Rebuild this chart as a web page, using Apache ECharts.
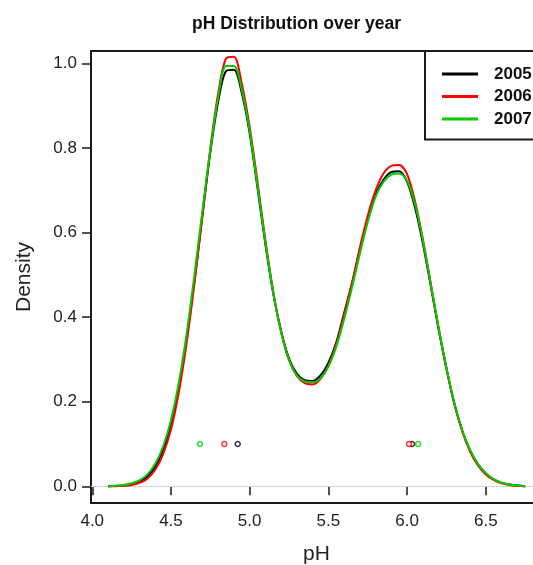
<!DOCTYPE html>
<html>
<head>
<meta charset="utf-8">
<script src="https://cdn.jsdelivr.net/npm/echarts@6/dist/echarts.min.js"></script>
<style>
html,body{margin:0;padding:0;background:#fff;}
#chart{width:533px;height:565px;}
</style>
</head>
<body>
<div id="chart"></div>
<script>
const years = ['2005', '2006', '2007'];
const colors = ['#000000', '#ff0000', '#00cc00'];
const phGrid = [4.10,4.15,4.20,4.25,4.30,4.35,4.40,4.45,4.50,4.55,4.60,4.65,4.70,4.75,4.80,4.85,4.90,4.95,
  5.00,5.05,5.10,5.15,5.20,5.25,5.30,5.35,5.40,5.45,5.50,5.55,5.60,5.65,5.70,5.75,5.80,5.85,5.90,5.95,
  6.00,6.05,6.10,6.15,6.20,6.25,6.30,6.35,6.40,6.45,6.50,6.55,6.60,6.65,6.70,6.75];
const density2005 = [0.000,0.001,0.002,0.005,0.011,0.023,0.046,0.085,0.145,0.232,0.350,0.488,0.640,0.790,0.910,0.982,0.985,0.930,
  0.835,0.705,0.572,0.455,0.366,0.302,0.266,0.251,0.249,0.262,0.292,0.340,0.410,0.480,0.560,0.630,0.690,0.725,0.743,0.745,
  0.720,0.660,0.575,0.475,0.372,0.278,0.196,0.132,0.085,0.052,0.030,0.016,0.008,0.004,0.002,0.000];
const density2006 = [0.000,0.000,0.001,0.003,0.008,0.018,0.039,0.076,0.134,0.222,0.340,0.482,0.642,0.800,0.930,1.012,1.016,0.952,
  0.850,0.720,0.582,0.460,0.366,0.298,0.261,0.244,0.241,0.254,0.285,0.335,0.405,0.480,0.565,0.640,0.700,0.740,0.758,0.760,
  0.738,0.675,0.585,0.480,0.375,0.280,0.195,0.130,0.082,0.049,0.028,0.015,0.007,0.003,0.001,0.000];
const density2007 = [0.000,0.001,0.003,0.007,0.014,0.028,0.053,0.094,0.156,0.246,0.362,0.503,0.652,0.795,0.920,0.994,0.994,0.938,
  0.840,0.710,0.576,0.457,0.363,0.299,0.262,0.248,0.246,0.256,0.283,0.330,0.395,0.470,0.550,0.625,0.685,0.720,0.737,0.740,
  0.722,0.668,0.582,0.480,0.375,0.280,0.197,0.133,0.086,0.053,0.031,0.017,0.009,0.004,0.002,0.000];
const markerLevel = 0.1;
const markers2005 = [4.924, 6.031];
const markers2006 = [4.839, 6.012];
const markers2007 = [4.684, 6.070];
const xTicks = [4.0, 4.5, 5.0, 5.5, 6.0, 6.5];
const yTicks = [0.0, 0.2, 0.4, 0.6, 0.8, 1.0];

const densities = [density2005, density2006, density2007];
const markers = [markers2005, markers2006, markers2007];
const FONT = '"Liberation Sans", Arial, Helvetica, sans-serif';

const series = [];
years.forEach((y, i) => {
  series.push({
    name: y,
    type: 'line',
    data: phGrid.map((p, k) => [p, densities[i][k]]),
    showSymbol: false,
    smooth: 0.3,
    lineStyle: { color: colors[i], width: 2 },
    itemStyle: { color: colors[i] },
    z: 3 + i,
    markLine: i === 0 ? {
      silent: true, symbol: 'none', label: { show: false },
      lineStyle: { color: '#d4d4d4', width: 1, type: 'solid' },
      data: [{ yAxis: 0 }], z: 1
    } : undefined
  });
});
years.forEach((y, i) => {
  series.push({
    name: y,
    type: 'scatter',
    data: markers[i].map(p => [p, markerLevel]),
    symbol: 'circle',
    symbolSize: 5,
    itemStyle: { color: '#fff', borderColor: colors[i], borderWidth: 1.5 },
    z: 6
  });
});

const chart = echarts.init(document.getElementById('chart'), null, { renderer: 'canvas' });
chart.setOption({
  animation: false,
  backgroundColor: '#fff',
  title: {
    text: 'pH Distribution over year',
    left: 187, top: 10,
    textStyle: { fontFamily: FONT, fontSize: 17.5, fontWeight: 'bold', color: '#111' }
  },
  legend: {
    data: years,
    orient: 'vertical',
    left: 425, top: 51,
    padding: [14.5, 40, 12, 17],
    itemWidth: 36, itemHeight: 3, itemGap: 5.5,
    icon: 'rect',
    borderColor: '#1a1a1a', borderWidth: 2,
    backgroundColor: '#fff',
    textStyle: { fontFamily: FONT, fontSize: 17, fontWeight: 'bold', color: '#111', lineHeight: 17, padding: [0, 0, 0, 11] },
    selectedMode: false
  },
  grid: {
    left: 91, right: -9, top: 51, bottom: 62,
    outerBoundsMode: 'none',
    containLabel: false,
    show: true, borderColor: '#1a1a1a', borderWidth: 2, backgroundColor: 'transparent'
  },
  xAxis: {
    type: 'value', min: 3.992, max: 6.857,
    name: 'pH', nameLocation: 'middle', nameGap: 41,
    nameTextStyle: { fontFamily: FONT, fontSize: 21, color: '#222' },
    axisLine: { show: false },
    axisTick: { show: true, inside: false, length: 9, lineStyle: { color: '#1a1a1a', width: 1.5 }, customValues: xTicks },
    axisLabel: { fontFamily: FONT, fontSize: 17, color: '#222', margin: 10, customValues: xTicks, formatter: v => v.toFixed(1) },
    splitLine: { show: false }
  },
  yAxis: {
    type: 'value', min: -0.0396, max: 1.0296,
    name: 'Density', nameLocation: 'middle', nameGap: 56,
    nameTextStyle: { fontFamily: FONT, fontSize: 21, color: '#222' },
    axisLine: { show: false },
    axisTick: { show: true, inside: false, length: 9, lineStyle: { color: '#1a1a1a', width: 1.5 }, customValues: yTicks },
    axisLabel: { fontFamily: FONT, fontSize: 17, color: '#222', margin: 14, customValues: yTicks, formatter: v => v.toFixed(1) },
    splitLine: { show: false }
  },
  series: series
});
</script>
</body>
</html>
